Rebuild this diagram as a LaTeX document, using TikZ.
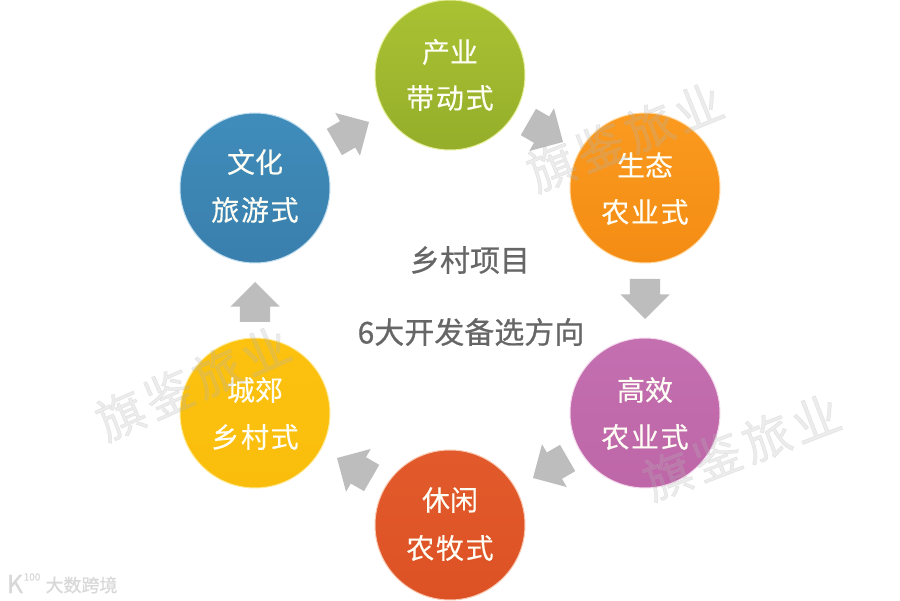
\documentclass[tikz,border=0pt]{standalone}
\usepackage{fontspec}
\setmainfont{Noto Sans CJK SC}
\newfontfamily\cjkdisc[FakeBold=0.25]{Noto Sans CJK SC}
\newfontfamily\cjkbold[FakeBold=0.6]{Noto Sans CJK SC}
\newfontfamily\cjkwm[FakeBold=1,LetterSpace=10]{Noto Sans CJK SC}
\usetikzlibrary{shapes.arrows,calc}
\definecolor{arrowgray}{HTML}{BDBDBD}
\definecolor{labelgray}{HTML}{666666}
\definecolor{wmgray}{HTML}{B4B4B4}
\definecolor{logogray}{HTML}{D8D8D8}
\definecolor{greenA}{HTML}{A9C233}\definecolor{greenB}{HTML}{95AE2A}\definecolor{greenC}{HTML}{E6EE9A}
\definecolor{orangeA}{HTML}{FA9A1E}\definecolor{orangeB}{HTML}{F48C14}\definecolor{orangeC}{HTML}{FFD9A0}
\definecolor{purpleA}{HTML}{C36FB0}\definecolor{purpleB}{HTML}{BE66A8}\definecolor{purpleC}{HTML}{F4D9EC}
\definecolor{redA}{HTML}{E25A2B}\definecolor{redB}{HTML}{DD5225}\definecolor{redC}{HTML}{F8C8B0}
\definecolor{yellowA}{HTML}{FCC20F}\definecolor{yellowB}{HTML}{FABD0C}\definecolor{yellowC}{HTML}{FFEB9A}
\definecolor{blueA}{HTML}{3F8CBA}\definecolor{blueB}{HTML}{3A7FAD}\definecolor{blueC}{HTML}{BFDDEE}
\tikzset{
  x=1pt,y=-1pt,
  every node/.style={inner sep=0pt,outer sep=0pt},
  disc/.style={circle,minimum size=150pt,draw=#1C,line width=1pt,top color=#1A,bottom color=#1B},
  disclabel/.style={text=white!96!yellow,font=\cjkdisc\fontsize{28}{28}\selectfont,align=center},
  centerlabel/.style={text=labelgray,font=\cjkbold\fontsize{30}{30}\selectfont},
  blockarrow/.style={single arrow,fill=arrowgray,draw=none,anchor=tip,minimum height=40pt,minimum width=49pt,
     single arrow head extend=9.5pt,single arrow head indent=0pt,rotate=#1},
  watermark/.style={text=wmgray,opacity=.25,font=\cjkwm\fontsize{48}{48}\selectfont},
  logotext/.style={text=logogray,font=\cjkbold\fontsize{18}{18}\selectfont}
}
\newcommand{\spaced}[1]{\addfontfeatures{LetterSpace=6}#1}
\newcommand{\shaftbox}{\rule{0pt}{30pt}}
\begin{document}
\begin{tikzpicture}
\useasboundingbox (0,0) rectangle (900,601);
\fill[white] (0,0) rectangle (900,601);
% discs
\node[disc=green] (top) at (450,75) {};
\node[disc=orange] (orange) at (645,188) {};
\node[disc=purple] (purple) at (645,413) {};
\node[disc=red] (red) at (450,525) {};
\node[disc=yellow] (yellow) at (255,413) {};
\node[disc=blue] (blue) at (255,188) {};
% disc labels
\node[disclabel] (t1) at (450,52) {产业};
\node[disclabel] (t2) at (450,98) {\spaced{带动式}};
\node[disclabel] (o1) at (645,165) {生态};
\node[disclabel] (o2) at (645,212) {\spaced{农业式}};
\node[disclabel] (p1) at (645,390) {高效};
\node[disclabel] (p2) at (645,437) {\spaced{农业式}};
\node[disclabel] (r1) at (450,500) {休闲};
\node[disclabel] (r2) at (450,548) {\spaced{农牧式}};
\node[disclabel] (y1) at (255,390) {城郊};
\node[disclabel] (y2) at (255,437) {\spaced{乡村式}};
\node[disclabel] (b1) at (255,162) {文化};
\node[disclabel] (b2) at (255,210) {\spaced{旅游式}};
% centre
\node[centerlabel] (c1) at (470,260) {乡村项目};
\node[centerlabel] (c2) at (471,332) {6大开发备选方向};
% arrows
\node[blockarrow=30] (a1) at (369,122) {\shaftbox};
\node[blockarrow=-30] (a2) at (563,142) {\shaftbox};
\node[blockarrow=-90] (a3) at (645,319) {\shaftbox};
\node[blockarrow=210] (a4) at (533,478) {\shaftbox};
\node[blockarrow=150] (a5) at (337,458) {\shaftbox};
\node[blockarrow=90] (a6) at (255,282) {\shaftbox};
% watermarks
\node[watermark,rotate=22] (w1) at (625,137) {旗鉴旅业};
\node[watermark,rotate=24] (w2) at (193,383) {旗鉴旅业};
\node[watermark,rotate=21] (w3) at (742,447) {旗鉴旅业};
% logo
\node[logotext,font=\cjkbold\fontsize{25}{25}\selectfont] (k) at (15,584) {K};
\node[logotext,font=\cjkbold\fontsize{10}{10}\selectfont] (h) at (32,577) {100};
\node[logotext] (l) at (81.5,585) {大数跨境};
\end{tikzpicture}
\end{document}
